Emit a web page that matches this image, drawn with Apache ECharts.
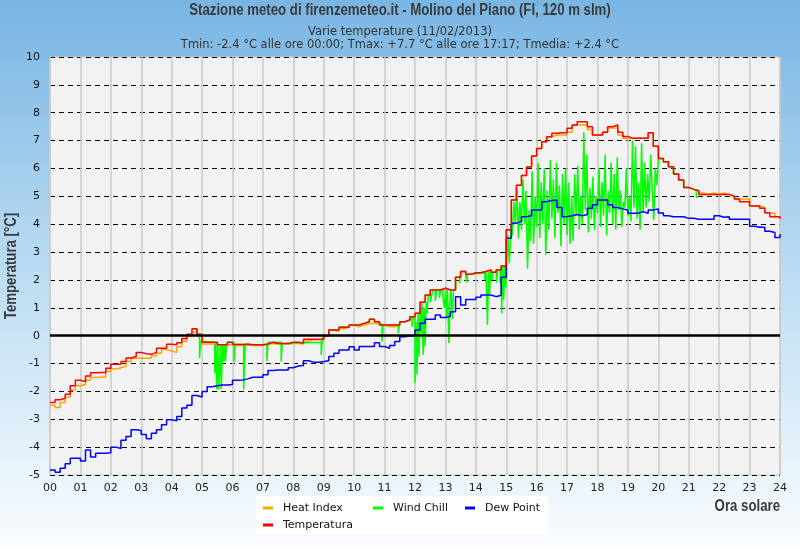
<!DOCTYPE html>
<html><head><meta charset="utf-8">
<script src="https://cdn.jsdelivr.net/npm/echarts@6/dist/echarts.min.js"></script>
<style>html,body{margin:0;padding:0;background:#fff;}#c{width:800px;height:550px;}</style>
</head><body><div id="c"></div>
<script>
// x tick labels (hours)
const hourLabels = ['00','01','02','03','04','05','06','07','08','09','10','11','12','13','14','15','16','17','18','19','20','21','22','23','24'];
// sampling step of the main series, minutes
const stepMinutes = 10;

const temperatura = [
 -2.4,-2.3,-2.25,-2.1,-1.8,-1.6,
 -1.65,-1.45,-1.33,-1.32,-1.32,-1.17,
 -1.03,-1.03,-0.93,-0.8,-0.75,-0.6,
 -0.65,-0.67,-0.6,-0.45,-0.45,-0.31,
 -0.33,-0.25,-0.1,0.05,0.25,0.05,
 -0.24,-0.24,-0.24,-0.33,-0.33,-0.24,
 -0.32,-0.32,-0.3,-0.33,-0.33,-0.33,
 -0.3,-0.24,-0.28,-0.28,-0.28,-0.24,
 -0.24,-0.26,-0.13,-0.13,-0.13,-0.13,
 0.0,0.2,0.2,0.3,0.3,0.38,
 0.38,0.44,0.5,0.59,0.5,0.38,
 0.38,0.38,0.38,0.5,0.56,0.68,
 0.8,1.2,1.46,1.64,1.64,1.7,
 1.64,1.64,2.1,2.3,2.2,2.26,
 2.26,2.3,2.36,2.28,2.36,2.5,
 3.8,4.87,5.4,5.75,6.05,6.45,
 6.72,6.96,7.14,7.26,7.28,7.28,
 7.44,7.56,7.68,7.68,7.5,7.2,
 7.2,7.3,7.5,7.56,7.3,7.15,
 7.08,7.08,7.08,7.08,7.28,6.8,
 6.36,6.24,6.06,5.8,5.59,5.32,
 5.25,5.2,5.07,5.07,5.07,5.07,
 5.07,5.07,5.0,4.9,4.81,4.81,
 4.65,4.65,4.57,4.41,4.27,4.27,
 4.2];

const heatIndex = [
 -2.5,-2.58,-2.4,-2.2,-1.95,-1.8,
 -1.75,-1.6,-1.5,-1.49,-1.49,-1.29,
 -1.2,-1.15,-1.1,-0.93,-0.81,-0.81,
 -0.81,-0.81,-0.72,-0.63,-0.5,-0.55,
 -0.6,-0.4,-0.2,0.0,0.12,0.0,
 -0.3,-0.3,-0.3,-0.35,-0.35,-0.3,
 -0.35,-0.35,-0.33,-0.35,-0.35,-0.35,
 -0.3,-0.28,-0.3,-0.3,-0.3,-0.28,
 -0.28,-0.3,-0.2,-0.15,-0.15,-0.15,
 0.0,0.2,0.15,0.25,0.3,0.38,
 0.32,0.38,0.44,0.44,0.44,0.38,
 0.32,0.32,0.38,0.5,0.56,0.68,
 0.8,1.2,1.46,1.64,1.64,1.7,
 1.64,1.64,2.1,2.3,2.2,2.26,
 2.26,2.3,2.36,2.28,2.36,2.5,
 3.8,4.87,5.4,5.75,6.05,6.45,
 6.72,6.96,7.14,7.2,7.2,7.2,
 7.3,7.56,7.56,7.56,7.4,7.2,
 7.2,7.3,7.45,7.45,7.2,7.08,
 7.08,7.08,7.08,7.08,7.28,6.8,
 6.36,6.24,6.06,5.8,5.59,5.32,
 5.25,5.2,5.12,5.07,5.12,5.07,
 5.12,5.07,5.0,4.9,4.9,4.9,
 4.65,4.65,4.6,4.41,4.38,4.27,
 4.2];

const dewPoint = [
 -4.82,-4.9,-4.76,-4.6,-4.4,-4.4,
 -4.5,-4.1,-4.35,-4.22,-4.22,-4.2,
 -4.0,-4.05,-3.75,-3.62,-3.38,-3.4,
 -3.55,-3.7,-3.5,-3.38,-3.2,-3.02,
 -3.05,-2.9,-2.6,-2.5,-2.15,-2.2,
 -2.0,-1.83,-1.8,-1.77,-1.77,-1.75,
 -1.6,-1.59,-1.55,-1.49,-1.49,-1.49,
 -1.4,-1.25,-1.23,-1.23,-1.23,-1.15,
 -1.09,-1.07,-0.9,-0.95,-0.95,-0.93,
 -0.9,-0.75,-0.63,-0.51,-0.51,-0.4,
 -0.51,-0.39,-0.39,-0.39,-0.25,-0.39,
 -0.45,-0.35,-0.21,-0.04,0.0,0.0,
 0.2,0.45,0.59,0.59,0.74,0.65,
 0.7,0.86,1.4,1.1,1.3,1.3,
 1.38,1.46,1.46,1.4,1.45,2.1,
 3.5,4.03,4.1,4.27,4.3,4.51,
 4.51,4.81,4.85,4.87,4.6,4.27,
 4.3,4.35,4.3,4.35,4.57,4.7,
 4.87,4.87,4.7,4.6,4.55,4.5,
 4.39,4.39,4.45,4.39,4.51,4.55,
 4.4,4.3,4.27,4.27,4.27,4.21,
 4.21,4.18,4.18,4.18,4.18,4.3,
 4.25,4.27,4.18,4.18,4.18,4.18,
 3.93,3.89,3.89,3.75,3.7,3.52,
 3.65];

// Wind chill: irregular sampling (minutes of the day) and values
const windChillMinutes = [
 280,290,295,297,300,325,327,329,331,333,336,338,340,342,344,346,348,350,363,365,382,385,428,430,456,458,470,535,537,540,550,570,590,600,610,620,630,640,650,655,657,687,689,690,700,710,714,716,
 720,722,724,726,728,730,732,734,736,738,740,742,744,746,750,753,756,760,763,768,771,775,778,780,782,784,787,789,791,794,796,800,808,810,820,822,824,830,858,860,863,865,867,869,872,874,880,881,883,888,890,891,893,895,897,899,
 900,903,906,909,912,915,918,921,924,927,930,933,936,939,942,945,948,951,954,957,
 960,963,966,969,972,975,978,981,984,987,990,993,996,999,1002,1005,1008,1011,1014,1017,
 1020,1023,1026,1029,1032,1035,1038,1041,1044,1047,1050,1053,1056,1059,1062,1065,1068,1071,1074,1077,
 1080,1083,1086,1089,1092,1095,1098,1101,1104,1107,1110,1113,1116,1119,1122,1125,1128,1131,1134,1137,
 1140,1143,1146,1149,1152,1155,1158,1161,1164,1167,1170,1173,1176,1179,1182,1185,1188,1191,1194,1197,
 1200,1210,1220,1230,1240,1250,1260,1270,1275,1277];
const windChillValues = [
 0.25,0.05,-0.8,-0.2,-0.24,-1.35,-0.24,-1.92,-0.33,-1.92,-0.33,-1.92,-0.33,-0.93,-0.33,-0.93,-0.33,-0.24,-0.93,-0.32,-1.92,-0.33,-0.93,-0.24,-0.93,-0.28,-0.24,-0.69,-0.13,0.0,0.2,0.3,0.38,0.38,0.44,0.5,0.59,0.5,0.38,-0.21,0.38,0.09,0.38,0.5,0.56,0.68,0.32,0.68,
 -1.71,0.5,-1.4,0.8,-0.75,1.0,0.09,1.2,-0.69,1.0,-0.4,1.2,0.8,1.46,1.2,1.46,1.64,1.25,1.64,1.35,1.64,1.4,1.0,1.64,0.68,1.64,-0.27,1.2,1.64,0.6,1.64,2.1,1.88,2.3,2.2,1.9,2.2,2.26,2.0,2.3,0.38,2.36,1.5,2.28,2.0,2.28,2.36,1.9,2.36,1.88,2.5,0.8,2.5,1.28,2.5,1.7,
 2.3,3.6,2.6,3.8,3.6,4.8,4.0,5.3,3.5,4.8,3.8,5.6,4.0,5.2,2.4,4.5,3.4,5.9,3.3,5.0,
 3.9,6.2,3.5,5.5,4.0,6.0,2.9,5.2,3.8,6.3,4.2,5.6,3.5,6.2,4.4,5.4,3.2,5.8,4.0,6.0,
 3.6,5.5,3.3,5.0,3.4,5.8,4.3,6.1,3.8,5.0,4.0,7.3,4.5,6.5,3.7,5.3,4.2,5.7,3.8,5.0,
 4.4,6.0,3.9,5.5,4.3,6.5,3.6,5.2,4.4,6.2,4.0,5.8,3.8,6.4,4.5,5.2,3.9,4.8,4.6,6.0,
 4.3,5.0,4.1,7.0,4.6,6.8,4.2,5.5,3.8,6.9,4.4,6.2,4.6,5.8,4.8,6.5,5.2,4.15,6.0,5.4,
 6.36,6.24,6.06,5.8,5.59,5.32,5.25,5.2,4.95,5.07];

function gridPairs(vals){ return vals.map((v,i)=>[i*stepMinutes/60, v]); }
const wcPairs = windChillMinutes.map((m,i)=>[m/60, windChillValues[i]]);

const chart = echarts.init(document.getElementById('c'), null, {renderer:'canvas'});
const base = "'DejaVu Sans',sans-serif";
const narrowBold = "bold 16px 'Liberation Sans', Arial, sans-serif";

function lineSeries(name, color, data, extra){
  return Object.assign({
    name, type:'line', step:'end', data, showSymbol:false, symbol:'none',
    lineStyle:{color, width:1.5}, itemStyle:{color}, animation:false, silent:true
  }, extra||{});
}

const legendText = {fontFamily:base, fontSize:11, color:'#111', padding:[0,0,0,5], lineHeight:14};

chart.setOption({
  animation:false,
  backgroundColor: new echarts.graphic.LinearGradient(0,0,0,1,[
    {offset:0,color:'#78b5e3'},{offset:0.5,color:'#bcdcf2'},{offset:1,color:'#fbfdff'}]),
  title:[
    {text:'Varie temperature (11/02/2013)', left:'center', top:21,
     textStyle:{fontFamily:base, fontWeight:'normal', fontSize:11.5, color:'#333'}},
    {text:'Tmin: -2.4 °C alle ore 00:00; Tmax: +7.7 °C alle ore 17:17; Tmedia: +2.4 °C', left:'center', top:34,
     textStyle:{fontFamily:base, fontWeight:'normal', fontSize:11.5, color:'#333'}}
  ],
  graphic:[
    {type:'rect', shape:{x:256,y:496,width:292,height:38}, style:{fill:'#ffffff'}, silent:true, z:-1},
    {type:'text', x:400, y:11, scaleX:0.826, silent:true,
     style:{text:'Stazione meteo di firenzemeteo.it - Molino del Piano (FI, 120 m slm)', font:narrowBold, fill:'#3a3a3a', align:'center', verticalAlign:'middle'}},
    {type:'text', x:780, y:507, scaleX:0.826, silent:true,
     style:{text:'Ora solare', font:narrowBold, fill:'#3a3a3a', align:'right', verticalAlign:'middle'}},
    {type:'text', x:12, y:266, rotation:Math.PI/2, scaleX:0.826, silent:true,
     style:{text:'Temperatura [°C]', font:narrowBold, fill:'#3a3a3a', align:'center', verticalAlign:'middle'}}
  ],
  legend:[
    {data:['Heat Index','Temperatura'], orient:'vertical', left:258, top:496, itemWidth:10, itemHeight:3, itemGap:3, icon:'rect',
     textStyle:legendText, selectedMode:false},
    {data:['Wind Chill'], orient:'vertical', left:368, top:496, itemWidth:10, itemHeight:3, icon:'rect',
     textStyle:legendText, selectedMode:false},
    {data:['Dew Point'], orient:'vertical', left:460, top:496, itemWidth:10, itemHeight:3, icon:'rect',
     textStyle:legendText, selectedMode:false}
  ],
  grid:{left:50, right:20, top:57, bottom:75, containLabel:false, outerBoundsMode:'none',
    show:true, backgroundColor:'#f2f2f2', borderColor:'#c8c8c8', borderWidth:1},
  xAxis:{type:'value', min:0, max:24, interval:1,
    axisLine:{lineStyle:{color:'#c8c8c8'}}, axisTick:{show:false},
    axisLabel:{formatter:v=>hourLabels[v], fontFamily:base, fontSize:11, color:'#222', margin:8},
    splitLine:{show:true, lineStyle:{color:'#c8c8c8', width:1.5}}},
  yAxis:{type:'value', min:-5, max:10, interval:1,
    axisLine:{show:false}, axisTick:{show:false},
    axisLabel:{fontFamily:base, fontSize:11, color:'#111', margin:10},
    splitLine:{show:true, lineStyle:{color:'#000', width:1, type:[5,4]}}},
  series:[
    lineSeries('Heat Index','#ffa500', gridPairs(heatIndex), {
      markLine:{silent:true, symbol:'none', label:{show:false}, lineStyle:{color:'#000', width:2.5, type:'solid'}, data:[{yAxis:0}]}
    }),
    lineSeries('Wind Chill','#00ff00', wcPairs),
    lineSeries('Dew Point','#0000ff', gridPairs(dewPoint)),
    lineSeries('Temperatura','#ff0000', gridPairs(temperatura))
  ]
});
</script></body></html>
